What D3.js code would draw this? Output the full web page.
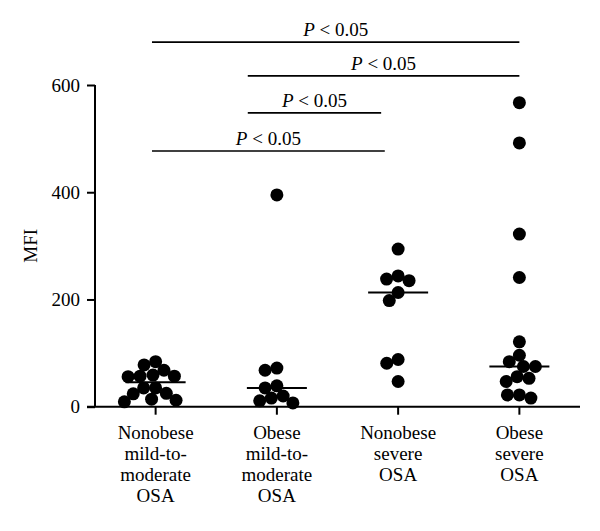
<!DOCTYPE html>
<html>
<head>
<meta charset="utf-8">
<script src="https://cdn.jsdelivr.net/npm/d3@7"></script>
<style>
  html, body { margin: 0; padding: 0; background: #fff; }
  svg { display: block; }
  text { font-family: "Liberation Serif", "Times New Roman", serif; fill: #000; }
</style>
</head>
<body>
<svg id="chart" width="600" height="531"></svg>
<script>
// ---------- data ----------
const categories = [
  ["Nonobese", "mild-to-", "moderate", "OSA"],
  ["Obese", "mild-to-", "moderate", "OSA"],
  ["Nonobese", "severe", "OSA"],
  ["Obese", "severe", "OSA"]
];
const nonobeseMild = [84, 78, 68, 59, 57, 56, 57, 35, 35, 25, 24, 14, 9, 12];
const obeseMild = [395, 72, 68, 39, 35, 20, 16, 11, 7];
const nonobeseSevere = [294, 244, 238, 235, 213, 198, 88, 81, 47];
const obeseSevere = [567, 492, 322, 241, 121, 96, 84, 75, 75, 56, 53, 47, 22, 22, 16];
const yTicks = [0, 200, 400, 600];
const yLabel = "MFI";
// significance brackets: from/to in category index units, level in MFI units
const brackets = [
  { from: -0.03, to: 3.0, level: 680, label: "0.05" },
  { from: 0.76, to: 3.0, level: 617, label: "0.05" },
  { from: 0.76, to: 1.86, level: 548, label: "0.05" },
  { from: -0.03, to: 1.89, level: 477, label: "0.05" }
];
const groups = [nonobeseMild, obeseMild, nonobeseSevere, obeseSevere];

// ---------- layout ----------
const svg = d3.select("#chart");
const plotLeft = 95, plotRight = 580, plotTop = 85, plotBottom = 406.7;
const r = 6.5;

const x = d3.scaleBand().domain(d3.range(categories.length)).range([plotLeft, plotRight]).padding(0);
const cx = i => x(i) + x.bandwidth() / 2;
const xi = d3.scaleLinear().domain([0, 3]).range([cx(0), cx(3)]);
const y = d3.scaleLinear().domain([0, 600]).range([plotBottom, plotTop]);

svg.append("rect").attr("width", 600).attr("height", 531).attr("fill", "#fff");

// y axis
const yAxis = svg.append("g")
  .attr("transform", `translate(${plotLeft},0)`)
  .call(d3.axisLeft(y).tickValues(yTicks).tickSize(8).tickPadding(7).tickFormat(d3.format("d")));
yAxis.select(".domain").attr("stroke", "#000").attr("stroke-width", 2).attr("d", `M0,${plotTop}V${plotBottom}`);
yAxis.selectAll(".tick line").attr("stroke", "#000").attr("stroke-width", 2);
yAxis.selectAll(".tick text").style("font-family", "Liberation Serif, serif").style("font-size", "19px").attr("fill", "#000");

// x axis
const xAxis = svg.append("g")
  .attr("transform", `translate(0,${plotBottom})`)
  .call(d3.axisBottom(x).tickSize(8).tickFormat(""));
xAxis.select(".domain").attr("stroke", "#000").attr("stroke-width", 2).attr("d", `M${plotLeft - 8},0H${plotRight}`);
xAxis.selectAll(".tick line").attr("stroke", "#000").attr("stroke-width", 2);

// category labels
categories.forEach((lines, i) => {
  const t = svg.append("text").attr("text-anchor", "middle").style("font-size", "19px");
  lines.forEach((ln, k) => {
    t.append("tspan").attr("x", cx(i)).attr("y", 439 + k * 21).text(ln);
  });
});

// y label
svg.append("text")
  .attr("transform", `translate(37,${(plotTop + plotBottom) / 2}) rotate(-90)`)
  .attr("text-anchor", "middle")
  .style("font-size", "19px")
  .text(yLabel);

// beeswarm layout
function swarm(vals, center) {
  const minD = 2 * r * 0.92;
  const placed = [];
  const order = vals.map((v, i) => i).sort((a, b) => vals[b] - vals[a]);
  order.forEach(i => {
    const py = y(vals[i]);
    const cands = [0];
    placed.forEach(p => {
      const dy = Math.abs(p.y - py);
      if (dy < minD) {
        const dx = Math.sqrt(minD * minD - dy * dy);
        cands.push(p.dx + dx + 0.01, p.dx - dx - 0.01);
      }
    });
    cands.sort((a, b) => Math.abs(a) - Math.abs(b) || a - b);
    let chosen = 0;
    for (const c of cands) {
      if (placed.every(p => Math.hypot(p.dx - c, p.y - py) >= minD - 0.001)) { chosen = c; break; }
    }
    placed.push({ dx: chosen, y: py, v: vals[i] });
  });
  return placed.map(p => ({ x: center + p.dx, y: p.y }));
}

groups.forEach((vals, i) => {
  const pts = swarm(vals, cx(i));
  svg.append("g").selectAll("circle").data(pts).join("circle")
    .attr("cx", d => d.x).attr("cy", d => d.y).attr("r", r).attr("fill", "#000");
  const med = d3.median(vals);
  svg.append("line")
    .attr("x1", cx(i) - 30).attr("x2", cx(i) + 30)
    .attr("y1", y(med)).attr("y2", y(med))
    .attr("stroke", "#000").attr("stroke-width", 2);
});

// brackets
brackets.forEach(b => {
  const x1 = xi(b.from), x2 = xi(b.to), yy = y(b.level);
  svg.append("line").attr("x1", x1).attr("x2", x2).attr("y1", yy).attr("y2", yy)
    .attr("stroke", "#000").attr("stroke-width", 1.6);
  const t = svg.append("text").attr("x", (x1 + x2) / 2).attr("y", yy - 6)
    .attr("text-anchor", "middle").style("font-size", "19px");
  t.append("tspan").style("font-style", "italic").text("P");
  t.append("tspan").text(" < " + b.label);
});
</script>
</body>
</html>
